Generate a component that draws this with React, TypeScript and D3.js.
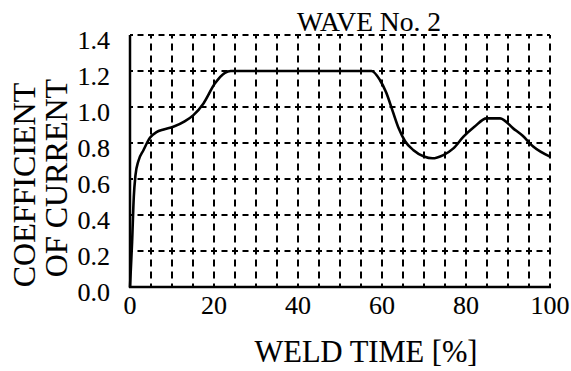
import React from "react";
import * as d3 from "d3";

// Weld time (% of total) and the current coefficient applied at that moment
const weldTime = [0, 0.5, 0.9, 1.3, 2, 3.2, 4.8, 6.3, 8, 10.3, 13, 15.1, 17.5, 20.2, 22.6, 24, 40, 57.5, 59.5, 61, 62.5, 64, 65.5, 67.5, 70, 72, 74.6, 77, 79.4, 82, 84.9, 88.1, 91.3, 93.5, 96, 100];
const coefficient = [0, 0.25, 0.5, 0.62, 0.7, 0.76, 0.83, 0.86, 0.875, 0.89, 0.92, 0.955, 1.02, 1.13, 1.19, 1.2, 1.2, 1.2, 1.15, 1.08, 0.98, 0.88, 0.81, 0.76, 0.725, 0.715, 0.733, 0.77, 0.835, 0.89, 0.937, 0.937, 0.88, 0.84, 0.78, 0.724];

const xTicks = [0, 20, 40, 60, 80, 100];
const yTicks = [0, 0.2, 0.4, 0.6, 0.8, 1.0, 1.2, 1.4];
const xGrid = d3.range(5, 101, 5);
const yGrid = [0.2, 0.4, 0.6, 0.8, 1.0, 1.2, 1.4];

const W = 571;
const H = 371;
const left = 130;
const right = 550;
const top = 35;
const bottom = 287;

export default function App() {
  const x = d3.scaleLinear().domain([0, 100]).range([left, right]);
  const y = d3.scaleLinear().domain([0, 1.4]).range([bottom, top]);
  const pts = weldTime.map((t, i) => [t, coefficient[i]] as [number, number]);
  const line = d3
    .line<[number, number]>()
    .x((d) => x(d[0]))
    .y((d) => y(d[1]))
    .curve(d3.curveMonotoneX);
  const font = "'Liberation Serif', 'Times New Roman', serif";
  const textStyle = { stroke: "#000", strokeWidth: 0.12 };

  return (
    <svg
      width={W}
      height={H}
      style={{ position: "absolute", left: 0, top: 0, background: "#fff" }}
      fontFamily={font}
    >
      <rect width={W} height={H} fill="#fff" />
      {/* dashed grid */}
      {xGrid.map((v) => (
        <line
          key={"gx" + v}
          x1={x(v)}
          x2={x(v)}
          y1={bottom}
          y2={top}
          stroke="#000"
          strokeWidth={2}
          strokeDasharray="7 5"
          strokeDashoffset={3.5}
        />
      ))}
      {yGrid.map((v) => (
        <line
          key={"gy" + v}
          x1={left}
          x2={right}
          y1={y(v)}
          y2={y(v)}
          stroke="#000"
          strokeWidth={2}
          strokeDasharray="6 4.5"
          strokeDashoffset={3}
        />
      ))}
      {/* axes */}
      <line x1={left} x2={left} y1={top} y2={bottom + 1} stroke="#000" strokeWidth={2.5} />
      <line x1={left - 1} x2={right + 1} y1={bottom} y2={bottom} stroke="#000" strokeWidth={2.5} />
      {/* curve */}
      <path d={line(pts) ?? ""} fill="none" stroke="#000" strokeWidth={2.6} strokeLinejoin="round" />
      {/* tick labels */}
      {yTicks.map((v) => (
        <text key={"ty" + v} x={110} y={y(v) + 14} textAnchor="end" fontSize={26} style={textStyle}>
          {v.toFixed(1)}
        </text>
      ))}
      {xTicks.map((v) => (
        <text key={"tx" + v} x={x(v)} y={314} textAnchor="middle" fontSize={26} style={textStyle}>
          {v}
        </text>
      ))}
      {/* titles */}
      <text x={369} y={31} textAnchor="middle" fontSize={27.5} style={textStyle}>
        WAVE No. 2
      </text>
      <text x={366} y={362} textAnchor="middle" fontSize={30.5} style={textStyle}>
        WELD TIME [%]
      </text>
      <text transform="translate(35,185) rotate(-90)" textAnchor="middle" fontSize={32} style={textStyle}>
        COEFFICIENT
      </text>
      <text transform="translate(67,178) rotate(-90)" textAnchor="middle" fontSize={32} style={textStyle}>
        OF CURRENT
      </text>
    </svg>
  );
}
